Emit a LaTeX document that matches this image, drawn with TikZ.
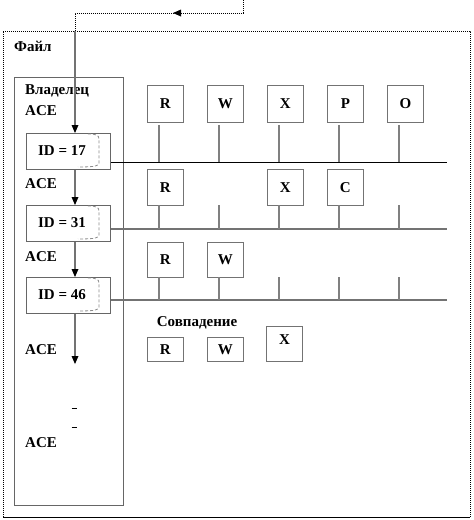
\documentclass[tikz,border=0pt]{standalone}
\usepackage{fontspec}
\setmainfont{Liberation Serif}
\usetikzlibrary{arrows.meta}
\begin{document}
\begin{tikzpicture}[x=1pt,y=-1pt,
  lbl/.style={font=\fontsize{15}{17}\selectfont\bfseries, inner sep=0pt},
  perm/.style={draw=black!55, line width=0.8pt, minimum width=36pt, minimum height=37pt, inner sep=0pt, font=\fontsize{15}{17}\selectfont\bfseries},
  permsm/.style={perm, minimum height=24pt},
  idbox/.style={draw=black!60, line width=0.8pt, minimum width=84pt, minimum height=36pt, inner sep=0pt},
  tick/.style={draw=black!50, line width=1.1pt},
  dots/.style={line width=1pt, dash pattern=on 1pt off 1pt},
  curl/.style={draw=black!45, line width=0.8pt, dash pattern=on 3pt off 2pt}
]
\useasboundingbox (0,0) rectangle (474,520);
% file box
\draw[dots] (3,517) -- (3,31) -- (470,31) -- (470,517);
\draw[line width=1pt] (3,517) -- (470,517);
\node[lbl, anchor=west] (file) at (14,46) {Файл};
% owner box
\node[draw=black!60, line width=0.8pt, minimum width=109pt, minimum height=428pt, inner sep=0pt, anchor=north west] (owner) at (14,77) {};
\node[lbl, anchor=west] (own1) at (25,91) {Владелец};
\node[lbl, anchor=west] (own2) at (25,111) {ACE};
% ID boxes
\node[idbox, anchor=north west] (id17) at (26,133) {};
\node[idbox, anchor=north west] (id31) at (26,205) {};
\node[idbox, anchor=north west] (id46) at (26,277) {};
\node[lbl] (t17) at (62,151) {ID = 17};
\node[lbl] (t31) at (62,223) {ID = 31};
\node[lbl] (t46) at (62,295) {ID = 46};
\foreach \n/\y in {id17/133,id31/205,id46/277}{
  \draw[curl] (88,\y+1) .. controls (96,\y+1) and (99,\y+2) .. (99,\y+6) -- (99,\y+30) .. controls (99,\y+33) and (95,\y+34) .. (78,\y+34);
}
\node[lbl, anchor=west] (ace1) at (25,184) {ACE};
\node[lbl, anchor=west] (ace2) at (25,257) {ACE};
\node[lbl, anchor=west] (ace3) at (25,350) {ACE};
\node[lbl, anchor=west] (ace4) at (25,443) {ACE};
\node[inner sep=0pt] (d1) at (74,408) {\rule{5pt}{1pt}};
\node[inner sep=0pt] (d2) at (74,427) {\rule{5pt}{1pt}};
% top connector
\coordinate (src) at (243,0);
\coordinate (c1) at (243,13);
\coordinate (c2) at (75,13);
\coordinate (mid) at (175,13);
\coordinate (entry) at (75,31);
\draw[dots] (src) -- (c1) -- (c2) -- (entry);
\fill (173,13) -- (181,9.5) -- (181,16.5) -- cycle;
\draw[draw=black!55, line width=1.1pt] (entry) -- (75,126);
\fill (75,133) -- (71.5,125) -- (78.5,125) -- cycle;
\draw[draw=black!55, line width=1.1pt] (id17.south -| entry) -- (75,198);
\fill (75,205) -- (71.5,197) -- (78.5,197) -- cycle;
\draw[draw=black!55, line width=1.1pt] (id31.south -| entry) -- (75,270);
\fill (75,277) -- (71.5,269) -- (78.5,269) -- cycle;
\draw[draw=black!55, line width=1.1pt] (id46.south -| entry) -- (75,357);
\fill (75,364) -- (71.5,356) -- (78.5,356) -- cycle;
% horizontal lines
\coordinate (h1) at (447,162);
\coordinate (h2) at (447,229);
\coordinate (h3) at (447,300);
\draw[line width=1pt] (id17.east |- h1) -- (h1);
\draw[draw=black!55, line width=1.1pt] (id31.east |- h2) -- (h2);
\draw[draw=black!55, line width=1.1pt] (id46.east |- h3) -- (h3);
% row 1
\node[perm, anchor=north west] (r1R) at (147,85) {R};
\node[perm, anchor=north west] (r1W) at (207,85) {W};
\node[perm, anchor=north west] (r1X) at (267,85) {X};
\node[perm, anchor=north west] (r1P) at (327,85) {P};
\node[perm, anchor=north west] (r1O) at (387,85) {O};
% row 2
\node[perm, anchor=north west, minimum height=36pt] (r2R) at (147,169) {R};
\node[perm, anchor=north west, minimum height=36pt] (r2X) at (267,169) {X};
\node[perm, anchor=north west, minimum height=36pt] (r2C) at (327,169) {C};
% row 3
\node[perm, anchor=north west, minimum height=35pt] (r3R) at (147,242) {R};
\node[perm, anchor=north west, minimum height=35pt] (r3W) at (207,242) {W};
% ticks
\foreach \x in {159,219,279,339,399}{
  \draw[tick] (\x,125) -- (\x,162);
  \draw[tick] (\x,205) -- (\x,229);
  \draw[tick] (\x,277) -- (\x,300);
}
% match
\node[lbl] (match) at (197,323) {Совпадение};
\node[permsm, anchor=north west] (mR) at (147,337) {R};
\node[permsm, anchor=north west] (mW) at (207,337) {W};
\node[perm, anchor=north west, minimum height=35pt] (mX) at (266,326) {};
\node[lbl] (mXt) at (284.5,340) {X};
\end{tikzpicture}
\end{document}
